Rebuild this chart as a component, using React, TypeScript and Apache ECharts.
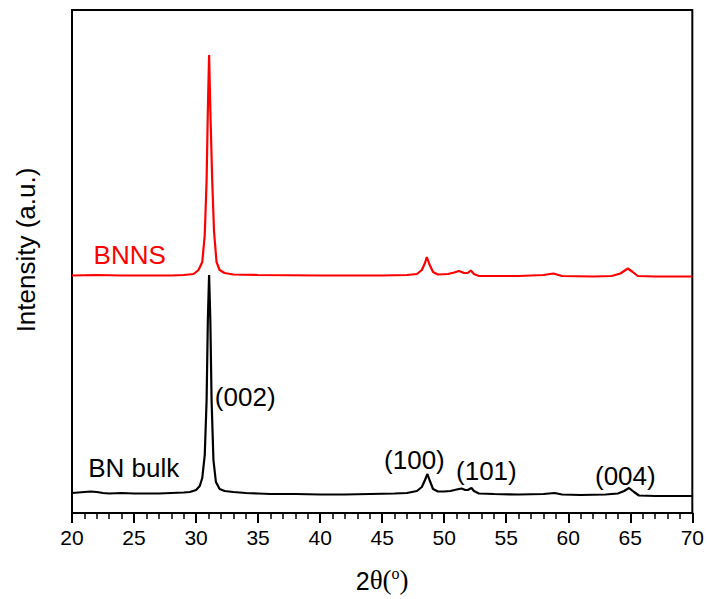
import React, { useEffect, useRef } from "react";
import * as echarts from "echarts";

// 2θ (degrees) and intensity (a.u.)
const bulkX = [20, 20.5, 21, 21.5, 22, 22.5, 23, 24, 25, 26, 27, 28, 29, 29.5, 30, 30.3, 30.5, 30.7, 30.85, 30.95, 31.05, 31.15, 31.25, 31.4, 31.6, 31.9, 32.3, 33, 34, 35, 36, 38, 40, 42, 44, 46, 47, 47.8, 48.2, 48.45, 48.65, 48.85, 49.1, 49.5, 50, 50.5, 51, 51.4, 51.7, 51.9, 52.2, 52.4, 52.8, 54, 56, 58, 58.9, 59.5, 61, 63, 64, 64.5, 64.9, 65.3, 65.7, 67, 70];
const bulkY = [20, 20.5, 21, 21.5, 21, 20, 19.5, 20, 19.5, 19.5, 19.5, 20, 20.5, 21, 23, 27, 35, 58, 113, 193, 238, 193, 113, 53, 31, 24, 22, 21, 20, 19.5, 19, 19, 18.5, 18.5, 19, 19.5, 20, 22, 26, 33, 39, 32, 24, 21.5, 21.5, 22, 23.5, 24.5, 23, 23, 25, 22, 19.5, 19, 18.5, 19, 20, 18.5, 18, 18.5, 19.5, 22, 25, 21, 17.5, 17, 17];

const bnnsX = [20, 22, 24, 26, 28, 29, 29.8, 30.2, 30.5, 30.7, 30.85, 30.95, 31.05, 31.15, 31.3, 31.45, 31.65, 31.9, 32.3, 33, 35, 40, 45, 47, 47.8, 48.2, 48.45, 48.6, 48.8, 49.1, 49.5, 50.3, 50.8, 51.2, 51.6, 51.9, 52.15, 52.4, 52.8, 54, 56, 58, 58.8, 59.5, 62, 63.5, 64.2, 64.8, 65.2, 65.6, 67, 70];
const bnnsY = [237.5, 238, 237.5, 237.5, 237.5, 238, 239, 243, 251, 278, 333, 403, 458, 403, 333, 281, 251, 243, 240, 238.5, 238, 237.5, 237.5, 238, 239, 243, 250, 256, 249, 241, 238.5, 239, 240.5, 242, 240, 240, 242.5, 239, 237, 237, 237, 238, 239.5, 237, 236.5, 237, 239.5, 244.5, 241, 237, 236.5, 236.5];

// annotations: text, 2θ, intensity
const labelText = ["BNNS", "BN bulk", "(002)", "(100)", "(101)", "(004)"];
const labelX = [24.65, 24.98, 33.96, 47.6, 53.4, 64.6];
const labelY = [258, 45, 116, 53, 42, 37];
const labelColor = ["#ff0000", "#000000", "#000000", "#000000", "#000000", "#000000"];

const xMin = 20;
const xMax = 70;
const xStep = 5;
const yMin = 0;
const yMax = 503;

const FONT = "Liberation Sans, Arial, sans-serif";
const SERIF = "Liberation Serif, Times New Roman, serif";

export default function App() {
  const ref = useRef<HTMLDivElement>(null);
  useEffect(() => {
    document.body.style.margin = "0";
    const chart = echarts.init(ref.current!, null, { renderer: "svg" });
    const bulk = bulkX.map((x, i) => [x, bulkY[i]]);
    const bnns = bnnsX.map((x, i) => [x, bnnsY[i]]);
    const labels = labelText.map((t, i) => ({
      value: [labelX[i], labelY[i]],
      name: t,
      label: { color: labelColor[i] },
    }));
    chart.setOption({
      animation: false,
      backgroundColor: "#ffffff",
      grid: {
        left: 72,
        right: 12,
        top: 10,
        bottom: 86,
        show: true,
        borderColor: "#000",
        borderWidth: 2,
        backgroundColor: "transparent",
      },
      graphic: [
        {
          type: "text",
          rotation: Math.PI / 2,
          x: 26,
          y: 250,
          style: {
            text: "Intensity (a.u.)",
            fontFamily: FONT,
            fontSize: 26,
            fill: "#000",
            align: "center",
            verticalAlign: "middle",
          },
        },
      ],
      xAxis: {
        type: "value",
        min: xMin,
        max: xMax,
        interval: xStep,
        name: "{a|2}{b|θ(}{c|o}{b|)}",
        nameLocation: "middle",
        nameGap: 52,
        nameTextStyle: {
          rich: {
            a: { fontFamily: FONT, fontSize: 25, color: "#000", verticalAlign: "bottom", lineHeight: 28 },
            b: { fontFamily: SERIF, fontSize: 27, color: "#000", verticalAlign: "bottom", lineHeight: 28 },
            c: { fontFamily: SERIF, fontSize: 16, color: "#000", verticalAlign: "top", lineHeight: 28, padding: [0, 0, 10, 0] },
          },
        },
        axisLine: { show: true, onZero: false, lineStyle: { color: "#000", width: 2 } },
        axisTick: { show: true, inside: false, length: 10, lineStyle: { color: "#000", width: 2 } },
        minorTick: { show: true, splitNumber: 5, length: 6, lineStyle: { color: "#000", width: 1.5 } },
        axisLabel: { show: true, margin: 14, fontFamily: FONT, fontSize: 21, color: "#000" },
        splitLine: { show: false },
      },
      yAxis: {
        type: "value",
        min: yMin,
        max: yMax,
        axisLine: { show: true, lineStyle: { color: "#000", width: 2 } },
        axisTick: { show: false },
        axisLabel: { show: false },
        splitLine: { show: false },
      },
      series: [
        {
          type: "line",
          data: bulk,
          showSymbol: false,
          symbol: "none",
          lineStyle: { color: "#000000", width: 2.2 },
          z: 3,
        },
        {
          type: "line",
          data: bnns,
          showSymbol: false,
          symbol: "none",
          lineStyle: { color: "#ff0000", width: 2.2 },
          z: 3,
        },
        {
          type: "scatter",
          data: labels,
          symbolSize: 0,
          silent: true,
          itemStyle: { opacity: 1 },
          label: {
            show: true,
            position: [0, 0],
            align: "center",
            verticalAlign: "middle",
            formatter: (p: any) => p.name,
            fontFamily: FONT,
            fontSize: 26,
          },
          z: 4,
        },
      ],
    });
    return () => chart.dispose();
  }, []);
  return <div ref={ref} style={{ width: 707, height: 599 }} />;
}
